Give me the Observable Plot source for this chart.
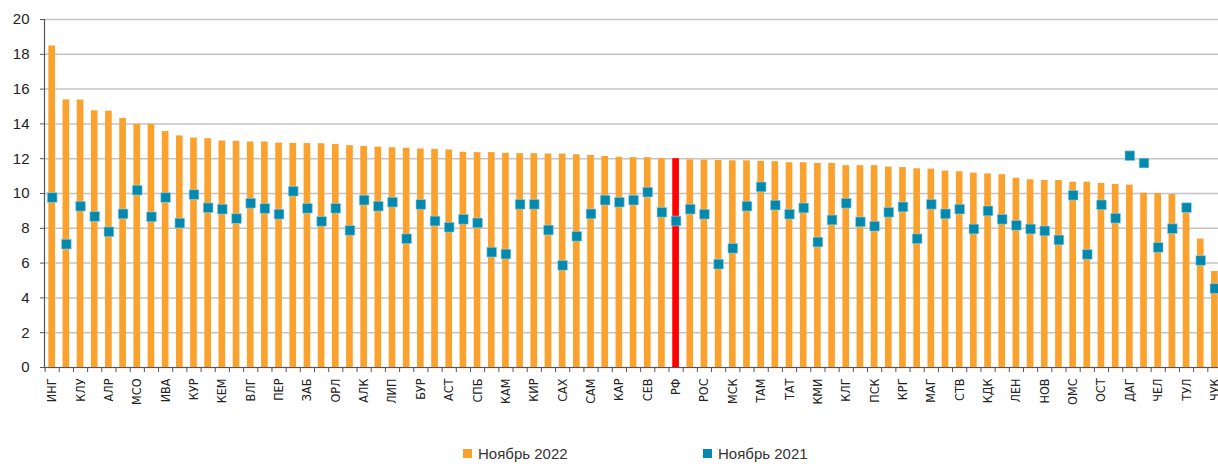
<!DOCTYPE html>
<html><head><meta charset="utf-8">
<script src="https://cdn.jsdelivr.net/npm/d3@7"></script>
<script src="https://cdn.jsdelivr.net/npm/@observablehq/plot@0.6"></script>
<style>
body{margin:0;background:#fff;}
#chart svg{display:block;overflow:hidden;}
#legend{position:relative;width:1218px;height:22px;font:15px "Liberation Sans",Arial,sans-serif;color:#333;}
#legend .it{position:absolute;top:0;height:22px;display:flex;align-items:center;white-space:nowrap;}
#legend .sw{width:9px;height:9px;margin-right:6px;}
</style></head><body>
<div id="chart"></div>
<div id="legend"></div>
<script>
// Shown tick labels (every other region)
const labels = ["ИНГ","КЛУ","АЛР","МСО","ИВА","КУР","КЕМ","ВЛГ","ПЕР","ЗАБ","ОРЛ","АЛК","ЛИП","БУР","АСТ","СПБ","КАМ","КИР","САХ","САМ","КАР","СЕВ","РФ","РОС","МСК","ТАМ","ТАТ","КМИ","КЛГ","ПСК","КРГ","МАГ","СТВ","КДК","ЛЕН","НОВ","ОМС","ОСТ","ДАГ","ЧЕЛ","ТУЛ","ЧУК"];
// Ноябрь 2022 (bars)
const nov2022 = [18.48,15.38,15.37,14.75,14.73,14.31,13.98,13.98,13.56,13.31,
13.19,13.15,13.02,13.00,12.96,12.96,12.90,12.88,12.87,12.86,
12.81,12.75,12.71,12.67,12.63,12.60,12.56,12.54,12.50,12.37,
12.35,12.35,12.31,12.29,12.29,12.27,12.27,12.23,12.19,12.13,
12.08,12.06,12.06,12.00,12.00,11.93,11.92,11.90,11.88,11.88,
11.85,11.83,11.77,11.77,11.73,11.73,11.60,11.60,11.60,11.52,
11.49,11.42,11.40,11.29,11.25,11.17,11.13,11.08,10.88,10.79,
10.75,10.75,10.65,10.65,10.58,10.52,10.48,10.02,10.00,9.94,
9.15,7.38,5.52];
// Ноябрь 2021 (squares)
const nov2021 = [9.77,7.09,9.27,8.68,7.80,8.83,10.19,8.66,9.77,8.30,
9.94,9.18,9.10,8.56,9.44,9.14,8.81,10.13,9.15,8.40,
9.15,7.88,9.62,9.27,9.50,7.40,9.37,8.42,8.06,8.52,
8.31,6.63,6.52,9.38,9.38,7.90,5.87,7.54,8.83,9.62,
9.50,9.62,10.08,8.92,8.42,9.10,8.81,5.94,6.85,9.27,
10.38,9.33,8.81,9.17,7.21,8.48,9.44,8.37,8.12,8.92,
9.23,7.40,9.38,8.83,9.10,7.96,9.00,8.52,8.17,7.96,
7.85,7.33,9.90,6.50,9.35,8.58,12.17,11.75,6.90,7.98,
9.19,6.15,4.54];
const series = ["Ноябрь 2022","Ноябрь 2021"];
const highlight = "РФ";
const yTicks = [0,2,4,6,8,10,12,14,16,18,20];

const colors = {bar:"#FBA22E", hi:"#FF0000", dot:"#0389AE"};
const n = nov2022.length;
const idx = d3.range(n);
const rows = idx.map(i => ({i, v22: nov2022[i], v21: nov2021[i], name: i % 2 ? "" : labels[i / 2]}));
const x0 = 44.6, x1 = 1221.5, step = (x1 - x0) / n;
const narrow = "'Liberation Sans Narrow','DejaVu Sans Condensed','Arial Narrow',sans-serif";
const sans = "'Liberation Sans',Arial,sans-serif";

const chart = Plot.plot({
  width: 1218, height: 442,
  marginTop: 19, marginBottom: 75, marginLeft: 44, marginRight: 0,
  style: {fontFamily: sans, color: "#333", background: "#fff"},
  x: {type: "band", domain: idx, range: [x0, x1], paddingInner: 0.53, paddingOuter: 0.265, round: false, label: null},
  y: {domain: [0, 20], label: null},
  marks: [
    Plot.gridY(yTicks, {stroke: "#c4c4c4", strokeOpacity: 1, strokeWidth: 1.5}),
    Plot.barY(rows, {x: "i", y: "v22", fill: d => d.name === highlight ? colors.hi : colors.bar}),
    Plot.dot(rows, {x: "i", y: "v21", symbol: "square", r: 5.5, fill: colors.dot, stroke: "#9fd3e3", strokeWidth: 0.6}),
    Plot.ruleY([0], {stroke: "#555", strokeWidth: 1.2}),
    Plot.frame({anchor: "left", stroke: "#555", strokeWidth: 1.2}),
    Plot.axisY({ticks: yTicks, tickSize: 4, tickPadding: 11, fontSize: 15, stroke: "#555", fill: "#222", label: null}),
    Plot.axisX({ticks: idx, tickSize: 5, tickFormat: () => "", dx: -step / 2, stroke: "#555", label: null}),
    Plot.axisX({ticks: idx.filter(i => i % 2 === 0), tickSize: 0, tickPadding: 11, tickRotate: -90,
      tickFormat: i => labels[i / 2], fontSize: 12.5, fontFamily: narrow, fill: "#222", label: null})
  ]
});
document.getElementById("chart").appendChild(chart);

const legend = document.getElementById("legend");
[[series[0], colors.bar, 463], [series[1], colors.dot, 703]].forEach(([t, c, left]) => {
  const it = document.createElement("div");
  it.className = "it"; it.style.left = left + "px";
  const sw = document.createElement("span"); sw.className = "sw"; sw.style.background = c;
  const tx = document.createElement("span"); tx.textContent = t;
  it.appendChild(sw); it.appendChild(tx); legend.appendChild(it);
});
</script>
</body></html>
